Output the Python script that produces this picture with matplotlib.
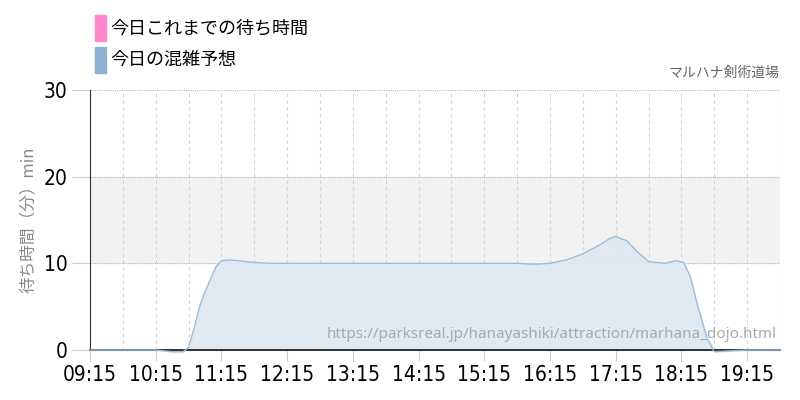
import matplotlib
matplotlib.use("Agg")
import matplotlib.pyplot as plt
import matplotlib.patches as mpatches
from matplotlib import font_manager

# 今日の混雑予想 (time, wait minutes)
times = ["09:15", "09:45", "10:15", "10:30", "10:40", "10:45", "10:50", "10:55",
         "11:00", "11:05", "11:10", "11:15", "11:22", "11:30", "11:45", "12:00",
         "13:00", "14:00", "15:00", "15:45", "16:00", "16:15", "16:30", "16:45",
         "17:00", "17:10", "17:15", "17:25", "17:35", "17:45", "18:00", "18:10",
         "18:17", "18:23", "18:30", "18:38", "18:45", "19:00", "19:15", "19:45"]
waits = [0, 0, 0, -0.2, -0.2, 0.3, 2.5, 5.0,
         6.7, 8.2, 9.6, 10.3, 10.4, 10.3, 10.1, 10.0,
         10.0, 10.0, 10.0, 10.0, 9.9, 10.0, 10.4, 11.1,
         12.1, 12.9, 13.1, 12.6, 11.3, 10.2, 10.0, 10.3,
         10.1, 8.5, 5.0, 1.5, -0.2, -0.1, 0, 0]

tick_labels = ["09:15", "10:15", "11:15", "12:15", "13:15", "14:15",
               "15:15", "16:15", "17:15", "18:15", "19:15"]
y_ticks = [0, 10, 20, 30]


def to_h(s):
    h, m = s.split(":")
    return int(h) + int(m) / 60.0


x = [to_h(t) for t in times]

plt.rcParams['font.family'] = ['Noto Sans CJK JP', 'DejaVu Sans']
num_fp = font_manager.FontProperties(family='DejaVu Sans', stretch='condensed', size=15)

fig = plt.figure(figsize=(8, 4), dpi=100)
ax = fig.add_axes([0.1125, 0.125, 0.8625, 0.65])

x0, x1 = to_h("09:15"), to_h("19:45")
ax.set_xlim(x0, x1)
ax.set_ylim(0, 30)

# busy band 10-20
ax.axhspan(10, 20, color="#f2f2f2", zorder=0)

# grids
for k in range(22):
    xv = x0 + k * 0.5
    ax.axvline(xv, color="#d4d4d4", lw=0.8, ls=(0, (3, 3)), zorder=1)
for yv in [10, 20, 30]:
    ax.axhline(yv, color="#bbbbbb", lw=0.8, ls=(0, (1, 1)), zorder=1)

ax.fill_between(x, waits, 0, color="#dfe9f3", alpha=0.95, zorder=2, clip_on=False)
ax.plot(x, waits, color="#9dbedb", lw=1.0, zorder=3, clip_on=False)

ax.set_xticks([to_h(t) for t in tick_labels])
ax.set_xticklabels(tick_labels, fontproperties=num_fp)
ax.set_yticks(y_ticks)
ax.set_yticklabels([str(v) for v in y_ticks], fontproperties=num_fp)
ax.tick_params(axis="x", length=8, color="#cccccc", pad=3)
ax.tick_params(axis="y", length=13, color="#cccccc", pad=3)

for s in ["top", "right"]:
    ax.spines[s].set_visible(False)
ax.spines["left"].set_color("#333333")
ax.spines["bottom"].set_color("#111111")
ax.spines["bottom"].set_linewidth(1.2)
ax.spines["bottom"].set_zorder(2.5)

ax.set_ylabel("待ち時間（分）min", color="#888888", fontsize=12, labelpad=5)

ax.text(0.995, 0.03, "https://parksreal.jp/hanayashiki/attraction/marhana_dojo.html",
        transform=ax.transAxes, ha="right", va="bottom", color="#aaaaaa",
        fontsize=11, fontfamily=['Noto Sans', 'DejaVu Sans'], zorder=5)

fig.text(0.975, 0.8, "マルハナ剣術道場", ha="right", va="bottom",
         color="#666666", fontsize=10)

# legend
fig.patches.append(mpatches.Rectangle((95 / 800, 1 - 41 / 400), 11 / 800, 26 / 400,
                                      transform=fig.transFigure, color="#ff88cc"))
fig.patches.append(mpatches.Rectangle((95 / 800, 1 - 73 / 400), 11 / 800, 26 / 400,
                                      transform=fig.transFigure, color="#8fb1d1"))
fig.text(110 / 800, 1 - 28 / 400, "今日これまでの待ち時間", va="center", fontsize=13)
fig.text(110 / 800, 1 - 60 / 400, "今日の混雑予想", va="center", fontsize=13)

fig.savefig("out.png", dpi=100)
